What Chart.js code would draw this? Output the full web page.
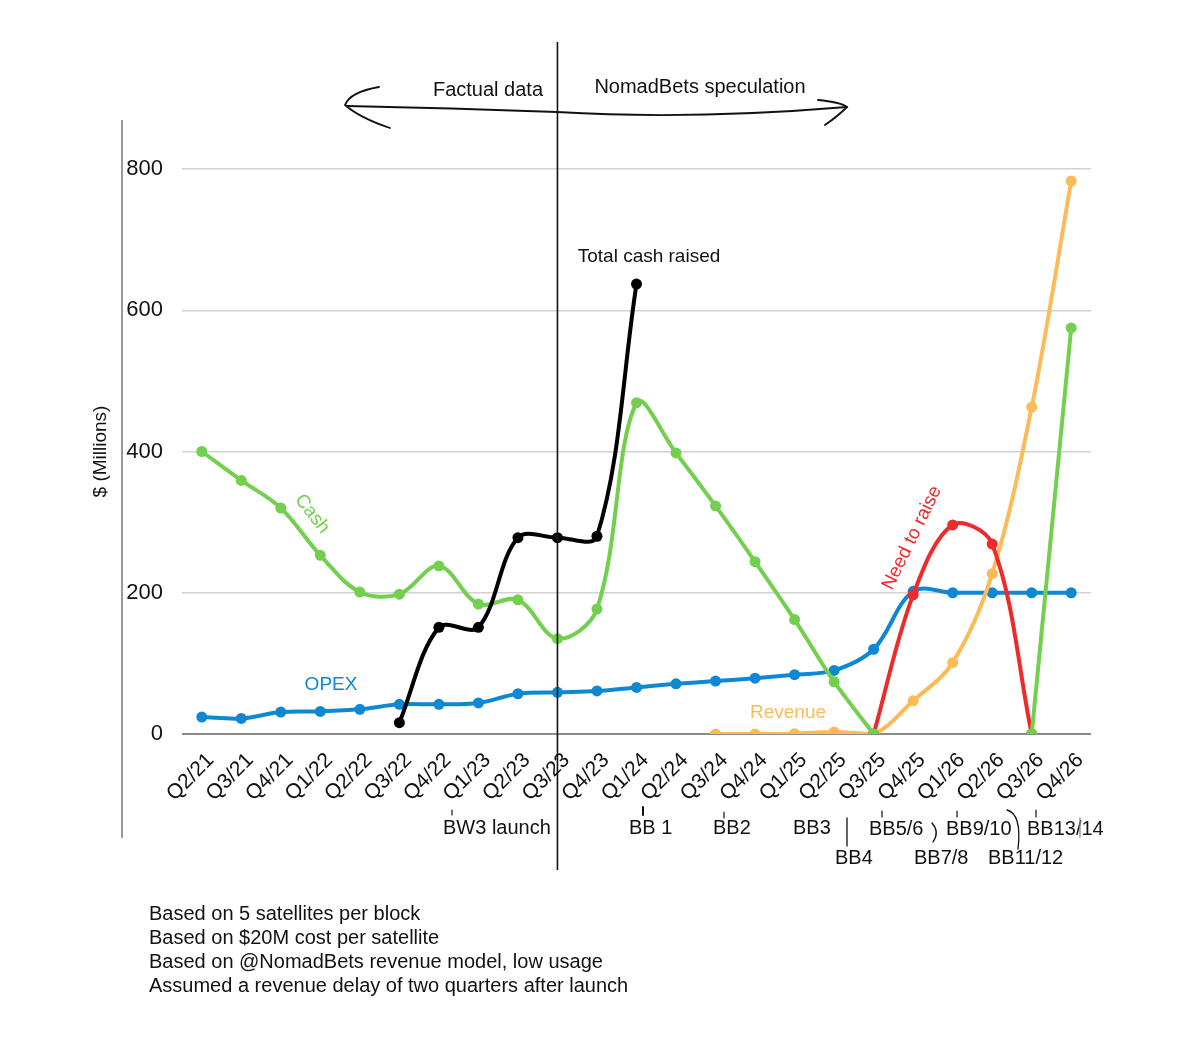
<!DOCTYPE html>
<html>
<head>
<meta charset="utf-8">
<script src="https://cdn.jsdelivr.net/npm/chart.js@4.4.1/dist/chart.umd.min.js"></script>
<style>
  html, body { margin: 0; padding: 0; background: #fff; }
  #wrap { width: 1200px; height: 1044px; }
</style>
</head>
<body>
<div id="wrap"><canvas id="cashChart" width="1200" height="1044"></canvas></div>
<script>
/* quarters on the x axis */
var quarters = ["Q2/21", "Q3/21", "Q4/21", "Q1/22", "Q2/22", "Q3/22", "Q4/22", "Q1/23", "Q2/23", "Q3/23",
  "Q4/23", "Q1/24", "Q2/24", "Q3/24", "Q4/24", "Q1/25", "Q2/25", "Q3/25", "Q4/25", "Q1/26", "Q2/26", "Q3/26", "Q4/26"];

/* series, $ millions */
var cash = [400, 359, 320, 253, 201, 198, 238, 184, 190, 135, 177, 469, 398, 323, 244, 162, 74, 0, null, null, null, 0, 575];
var opex = [24, 22, 31, 32, 35, 42, 42, 44, 57, 59, 61, 66, 71, 75, 79, 84, 90, 120, 202, 200, 200, 200, 200];
var cashRaised = [null, null, null, null, null, 16, 151, 151, 278, 278, 280, 637, null, null, null, null, null, null, null, null, null, null, null];
var revenue = [null, null, null, null, null, null, null, null, null, null, null, null, null, 0, 0, 0.5, 3, 0, 47, 101, 227, 463, 783];
var needToRaise = [null, null, null, null, null, null, null, null, null, null, null, null, null, null, null, null, null, 0, 197, 296, 269, 0, null];

var yTicks = [0, 200, 400, 600, 800];

var FONT = "'Liberation Sans', Arial, Helvetica, sans-serif";
Chart.defaults.font.family = FONT;
Chart.defaults.color = "#111";

var GREEN = "#73d04f";
var BLUE = "#0f88d4";
var ORANGE = "#fdbb58";
var RED = "#ee2b2b";

function series(label, data, color) {
  return {
    label: label,
    data: data,
    borderColor: color,
    backgroundColor: color,
    borderWidth: 4,
    pointRadius: 5.5,
    pointBorderWidth: 0,
    tension: 0.35,
    spanGaps: false,
    fill: false
  };
}

// text and marks drawn around the plot
var notes = {
  id: "notes",
  afterDraw: function (chart) {
    var ctx = chart.ctx;
    var x = chart.scales.x;
    ctx.save();

    // left frame line
    ctx.strokeStyle = "#9a9a9a";
    ctx.lineWidth = 2;
    ctx.beginPath();
    ctx.moveTo(122, 120);
    ctx.lineTo(122, 838);
    ctx.stroke();

    // divider between fact and speculation
    var xd = x.getPixelForValue(9);
    ctx.strokeStyle = "#111";
    ctx.lineWidth = 1.6;
    ctx.beginPath();
    ctx.moveTo(xd, 42);
    ctx.lineTo(xd, 870);
    ctx.stroke();

    // hand drawn double arrow
    ctx.lineWidth = 1.8;
    ctx.lineCap = "round";
    ctx.beginPath();
    ctx.moveTo(347, 106);
    ctx.quadraticCurveTo(450, 108, 557, 112);
    ctx.quadraticCurveTo(690, 120, 847, 107);
    ctx.stroke();
    ctx.beginPath();
    ctx.moveTo(379, 87);
    ctx.quadraticCurveTo(350, 92, 345, 105);
    ctx.quadraticCurveTo(360, 118, 390, 128);
    ctx.stroke();
    ctx.beginPath();
    ctx.moveTo(818, 100);
    ctx.quadraticCurveTo(840, 102, 847, 107);
    ctx.quadraticCurveTo(838, 116, 825, 125);
    ctx.stroke();

    ctx.textBaseline = "middle";
    ctx.textAlign = "center";
    ctx.fillStyle = "#111";
    ctx.font = "20px " + FONT;
    ctx.fillText("Factual data", 488, 90);
    ctx.fillText("NomadBets speculation", 700, 87);

    // series labels
    ctx.font = "19px " + FONT;
    ctx.fillText("Total cash raised", 649, 257);
    ctx.fillStyle = BLUE;
    ctx.fillText("OPEX", 331, 685);
    ctx.fillStyle = ORANGE;
    ctx.fillText("Revenue", 788, 713);

    ctx.save();
    ctx.translate(312, 514);
    ctx.rotate(52 * Math.PI / 180);
    ctx.fillStyle = GREEN;
    ctx.fillText("Cash", 0, 0);
    ctx.restore();

    ctx.save();
    ctx.translate(912, 538);
    ctx.rotate(-64 * Math.PI / 180);
    ctx.fillStyle = RED;
    ctx.fillText("Need to raise", 0, 0);
    ctx.restore();

    // launch milestones under the axis
    ctx.fillStyle = "#111";
    ctx.textAlign = "left";
    ctx.font = "20px " + FONT;
    var launches = [
      ["BW3 launch", 443, 828], ["BB 1", 629, 828], ["BB2", 713, 828], ["BB3", 793, 828],
      ["BB4", 835, 858], ["BB5/6", 869, 829], ["BB7/8", 914, 858], ["BB9/10", 946, 829],
      ["BB11/12", 988, 858], ["BB13/14", 1027, 829]
    ];
    launches.forEach(function (l) { ctx.fillText(l[0], l[1], l[2]); });

    ctx.strokeStyle = "#111";
    ctx.lineWidth = 1.2;
    [[452, 810, 815], [724, 812, 818], [882, 811, 817], [957, 811, 817], [1036, 810, 817]].forEach(function (t) {
      ctx.beginPath();
      ctx.moveTo(t[0], t[1]);
      ctx.lineTo(t[0], t[2]);
      ctx.stroke();
    });
    ctx.lineWidth = 2;
    ctx.beginPath();
    ctx.moveTo(643, 807);
    ctx.lineTo(643, 815);
    ctx.stroke();
    ctx.lineWidth = 1.3;
    ctx.beginPath();
    ctx.moveTo(847, 818);
    ctx.lineTo(847, 846);
    ctx.stroke();
    ctx.beginPath();
    ctx.moveTo(932, 823);
    ctx.quadraticCurveTo(940, 832, 933, 842);
    ctx.stroke();
    ctx.beginPath();
    ctx.moveTo(1007, 810);
    ctx.quadraticCurveTo(1022, 814, 1018, 849);
    ctx.stroke();
    ctx.strokeStyle = "#888";
    ctx.beginPath();
    ctx.moveTo(1080, 818);
    ctx.lineTo(1080, 837);
    ctx.stroke();

    // footnotes
    ctx.fillStyle = "#111";
    ctx.font = "20px " + FONT;
    var foot = [
      "Based on 5 satellites per block",
      "Based on $20M cost per satellite",
      "Based on @NomadBets revenue model, low usage",
      "Assumed a revenue delay of two quarters after launch"
    ];
    foot.forEach(function (t, i) { ctx.fillText(t, 149, 914 + i * 24); });

    ctx.restore();
  }
};

var ctx = document.getElementById("cashChart");
var chart = new Chart(ctx, {
  type: "line",
  data: {
    labels: quarters,
    datasets: [
      series("Total cash raised", cashRaised, "#000"),
      series("Cash", cash, GREEN),
      series("Need to raise", needToRaise, RED),
      series("Revenue", revenue, ORANGE),
      series("OPEX", opex, BLUE)
    ]
  },
  options: {
    responsive: false,
    animation: false,
    layout: { padding: { left: 88, right: 109, top: 169, bottom: 0 } },
    plugins: {
      legend: { display: false },
      tooltip: { enabled: false }
    },
    scales: {
      x: {
        offset: true,
        grid: { display: false, drawTicks: false },
        border: { display: false },
        ticks: { autoSkip: false, minRotation: 45, maxRotation: 45, padding: 14, labelOffset: 9, font: { size: 21 }, color: "#111" },
        afterFit: function (s) { s.height = 310; }
      },
      y: {
        min: 0,
        max: 800,
        afterBuildTicks: function (s) { s.ticks = yTicks.map(function (v) { return { value: v }; }); },
        ticks: { padding: 19, font: { size: 22 }, color: "#111" },
        grid: {
          drawTicks: false,
          color: function (c) { return c.tick && c.tick.value === 0 ? "#8c8c8c" : "#d2d2d2"; },
          lineWidth: function (c) { return c.tick && c.tick.value === 0 ? 2 : 1.5; }
        },
        border: { display: false },
        title: { display: true, text: "$ (Millions)", font: { size: 19 }, color: "#111", padding: { top: 1, bottom: 0 } },
        afterFit: function (s) { s.width = 94; }
      }
    }
  },
  plugins: [notes]
});
</script>
</body>
</html>
